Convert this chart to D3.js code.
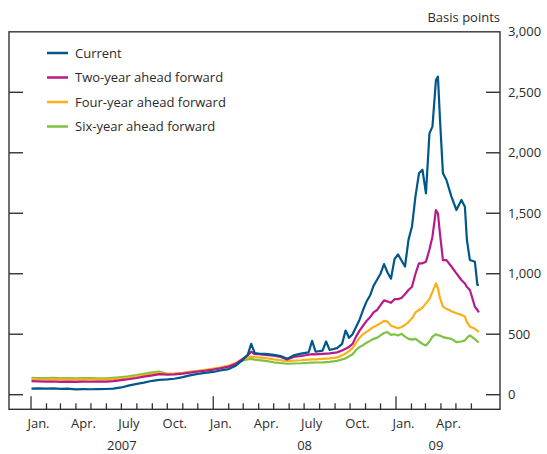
<!DOCTYPE html>
<html><head><meta charset="utf-8">
<script src="https://cdn.jsdelivr.net/npm/d3@7"></script>
<style>
html,body{margin:0;padding:0;background:#fff;}
text{font-family:"Open Sans","Noto Sans",sans-serif;fill:#2b2b2b;}
</style></head>
<body><svg id="chart" width="547" height="454"></svg>
<script>
const dates = ["2007-01-02","2007-01-15","2007-02-01","2007-02-15","2007-03-01","2007-03-15","2007-04-01","2007-04-15","2007-05-01","2007-05-15","2007-06-01","2007-06-15","2007-07-01","2007-07-15","2007-08-01","2007-08-15","2007-09-01","2007-09-15","2007-10-01","2007-10-15","2007-11-01","2007-11-15","2007-12-01","2007-12-15","2008-01-01","2008-01-15","2008-02-01","2008-02-15","2008-03-01","2008-03-10","2008-03-17","2008-03-24","2008-04-01","2008-04-15","2008-05-01","2008-05-15","2008-05-28","2008-06-10","2008-06-25","2008-07-10","2008-07-17","2008-07-24","2008-08-07","2008-08-14","2008-08-21","2008-09-05","2008-09-15","2008-09-22","2008-09-29","2008-10-06","2008-10-13","2008-10-20","2008-10-27","2008-11-03","2008-11-10","2008-11-17","2008-11-24","2008-12-01","2008-12-08","2008-12-15","2008-12-22","2008-12-29","2009-01-05","2009-01-12","2009-01-19","2009-01-26","2009-02-02","2009-02-09","2009-02-16","2009-02-23","2009-03-02","2009-03-09","2009-03-15","2009-03-22","2009-03-26","2009-03-30","2009-04-05","2009-04-12","2009-04-22","2009-05-02","2009-05-12","2009-05-19","2009-05-23","2009-05-29","2009-06-08","2009-06-13","2009-06-16"];
const current = [50,52,50,52,48,50,44,46,45,46,47,50,60,75,90,100,115,122,126,132,145,160,172,180,188,200,212,240,290,330,420,345,340,338,330,320,298,325,340,350,445,355,365,440,370,385,420,530,470,500,560,620,700,770,820,900,950,1000,1080,1010,960,1120,1160,1110,1060,1280,1390,1640,1830,1860,1665,2160,2216,2602,2629,2285,1830,1775,1637,1527,1610,1554,1279,1113,1099,907,907];
const twoYear = [112,110,108,109,106,108,106,108,107,108,108,112,120,128,138,150,160,170,166,168,175,182,192,198,208,218,232,255,300,325,355,335,335,330,322,312,292,312,320,330,335,333,338,340,342,350,365,380,395,420,480,530,570,610,640,680,700,740,780,770,760,790,790,800,830,866,893,1000,1086,1086,1100,1200,1306,1527,1500,1334,1113,1113,1060,1003,948,920,890,866,727,700,680];
const fourYear = [128,126,125,127,124,126,124,126,125,126,125,128,134,140,150,160,170,178,172,172,180,188,198,205,215,225,240,262,296,305,315,310,308,302,292,285,278,282,285,290,292,292,296,298,300,308,325,340,360,385,430,470,500,520,540,560,575,590,610,604,570,560,549,560,576,600,631,680,700,720,755,790,850,920,880,800,728,710,690,673,660,645,600,562,545,530,520];
const sixYear = [140,138,137,139,136,138,136,138,137,136,135,140,146,152,162,172,185,192,172,172,178,186,194,200,210,222,236,258,285,292,295,290,286,280,268,262,256,258,260,264,265,266,268,270,272,280,292,300,318,335,370,394,410,430,445,462,470,490,510,518,495,500,490,504,480,462,455,462,440,420,407,440,480,500,490,490,476,470,462,435,440,449,470,490,460,440,435];
const seriesNames = ["Current","Two-year ahead forward","Four-year ahead forward","Six-year ahead forward"];
const seriesColors = ["#00578a","#b8198b","#fcaf17","#7dc242"];
const yTicks = [0,500,1000,1500,2000,2500,3000];
const monthLabels = [["2007-01-16","Jan."],["2007-04-16","Apr."],["2007-07-16","July"],["2007-10-16","Oct."],["2008-01-16","Jan."],["2008-04-16","Apr."],["2008-07-16","July"],["2008-10-16","Oct."],["2009-01-16","Jan."],["2009-04-16","Apr."]];
const yearLabels = [["2007-07-02","2007"],["2008-07-02","08"],["2009-03-22","09"]];

const parse = d3.timeParse("%Y-%m-%d");
const svg = d3.select("#chart");
const left = 9, right = 500, bottom = 409.3;
const x = d3.scaleTime().domain([parse("2007-01-01"), parse("2009-01-01")]).range([31, 396]);
const y = d3.scaleLinear().domain([0, 2500]).range([394.7, 92.3]);
const yTop = y(3000);

// frame
svg.append("rect").attr("x", left).attr("y", yTop).attr("width", right-left).attr("height", bottom-yTop)
  .attr("fill","none").attr("stroke","#333").attr("stroke-width",1.4);

// y ticks (both sides) and right labels
yTicks.filter(v => v < 3000).forEach(v => {
  svg.append("line").attr("x1", left).attr("x2", left+14).attr("y1", y(v)).attr("y2", y(v)).attr("stroke","#333").attr("stroke-width",1.4);
  svg.append("line").attr("x1", right-14).attr("x2", right).attr("y1", y(v)).attr("y2", y(v)).attr("stroke","#333").attr("stroke-width",1.4);
});
svg.append("g").selectAll("text").data(yTicks).join("text")
  .attr("x", 508).attr("y", d => y(d)).attr("dy","0.35em")
  .attr("font-size", 13).text(d => d3.format(",")(d));
svg.append("text").attr("x", 500).attr("y", 22).attr("text-anchor","end").attr("font-size",13).text("Basis points");

// x ticks: monthly
const months = d3.timeMonth.range(parse("2007-01-01"), parse("2009-06-02"));
svg.append("g").selectAll("line").data(months).join("line")
  .attr("x1", d => x(d)).attr("x2", d => x(d))
  .attr("y1", d => d.getMonth() === 0 ? bottom-13 : bottom-6).attr("y2", bottom)
  .attr("stroke","#333").attr("stroke-width",1.3);
svg.append("g").selectAll("text").data(monthLabels).join("text")
  .attr("x", d => x(parse(d[0]))).attr("y", 428).attr("text-anchor","middle").attr("font-size",13).text(d => d[1]);
svg.append("g").selectAll("text").data(yearLabels).join("text")
  .attr("x", d => x(parse(d[0]))).attr("y", 450).attr("text-anchor","middle").attr("font-size",13).text(d => d[1]);

// lines
const allSeries = [current, twoYear, fourYear, sixYear];
const line = d3.line().x((d,i) => x(parse(dates[i]))).y(d => y(d)).curve(d3.curveLinear);
for (let s = 3; s >= 0; s--) {
  svg.append("path").datum(allSeries[s]).attr("d", line)
    .attr("fill","none").attr("stroke", seriesColors[s]).attr("stroke-width",2.2).attr("stroke-linejoin","round");
}

// legend
const legY = [53, 77.5, 102, 126.5];
seriesNames.forEach((n,i) => {
  svg.append("line").attr("x1",47).attr("x2",68).attr("y1",legY[i]).attr("y2",legY[i]).attr("stroke",seriesColors[i]).attr("stroke-width",2.5);
  svg.append("text").attr("x",75).attr("y",legY[i]).attr("dy","0.35em").attr("font-size",13).text(n);
});
</script></body></html>
